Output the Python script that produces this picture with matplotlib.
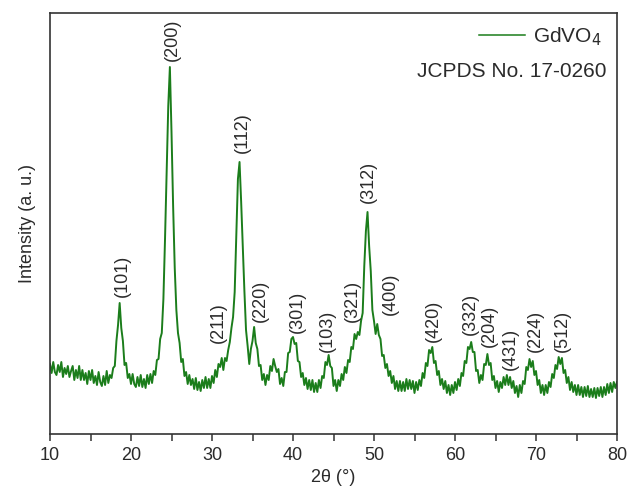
import numpy as np
import matplotlib
matplotlib.use("Agg")
import matplotlib.pyplot as plt

# ---- data: XRD pattern of GdVO4 (2theta from 10 to 80, step 0.2) ----
two_theta_start = 10.0
two_theta_step = 0.2
intensity = [
    70, 61, 72, 62, 59, 69, 62, 72, 57, 66,          # 10.0-11.8
    60, 68, 57, 63, 68, 54, 64, 56, 68, 54,          # 12.0-13.8
    64, 54, 61, 50, 63, 54, 64, 51, 58, 49,          # 14.0-15.8
    62, 52, 48, 58, 49, 63, 51, 59, 56, 66,          # 16.0-17.8
    68, 93, 109, 131, 106, 93, 69, 71, 56, 60,       # 18.0-19.8
    50, 60, 50, 47, 57, 48, 59, 47, 55, 46,          # 20.0-21.8
    59, 50, 60, 51, 63, 59, 74, 75, 95, 101,         # 22.0-23.8
    135, 195, 262, 328, 367, 302, 228, 166, 124, 101,  # 24.0-25.8
    91, 72, 75, 58, 62, 50, 59, 49, 55, 45,          # 26.0-27.8
    56, 44, 52, 43, 54, 46, 57, 46, 55, 46,          # 28.0-29.8
    58, 51, 64, 57, 70, 67, 76, 64, 76, 73,          # 30.0-31.8
    84, 92, 106, 117, 142, 200, 255, 272, 232, 188,  # 32.0-33.8
    143, 104, 88, 70, 85, 93, 107, 91, 85, 68,       # 34.0-35.8
    69, 54, 60, 49, 59, 54, 68, 63, 75, 68,          # 36.0-37.8
    62, 65, 50, 56, 48, 62, 62, 81, 82, 95,          # 38.0-39.8
    97, 90, 91, 73, 72, 57, 61, 49, 56, 45,          # 40.0-41.8
    54, 44, 54, 42, 51, 42, 54, 46, 58, 56,          # 42.0-43.8
    72, 69, 79, 68, 66, 48, 54, 43, 54, 48,          # 44.0-45.8
    60, 54, 67, 61, 74, 72, 87, 85, 100, 95,         # 46.0-47.8
    102, 99, 113, 121, 168, 203, 222, 188, 163, 124, # 48.0-49.8
    113, 100, 110, 99, 95, 78, 79, 66, 70, 58,       # 50.0-51.8
    63, 51, 58, 45, 53, 43, 53, 43, 52, 43,          # 52.0-53.8
    55, 45, 54, 45, 53, 41, 52, 44, 54, 48,          # 54.0-55.8
    61, 56, 71, 68, 84, 81, 87, 71, 73, 59,          # 56.0-57.8
    63, 49, 55, 45, 53, 41, 49, 39, 49, 41,          # 58.0-59.8
    52, 44, 55, 48, 61, 58, 73, 71, 87, 85,          # 60.0-61.8
    92, 82, 82, 63, 64, 51, 59, 54, 70, 69,          # 62.0-63.8
    80, 69, 71, 54, 58, 46, 53, 42, 52, 46,          # 64.0-65.8
    57, 49, 59, 49, 57, 46, 53, 41, 48, 37,          # 66.0-67.8
    49, 41, 53, 50, 67, 64, 75, 67, 73, 59,          # 68.0-69.8
    63, 49, 54, 41, 49, 39, 49, 41, 52, 47,          # 70.0-71.8
    60, 56, 69, 65, 77, 70, 76, 61, 64, 51,          # 72.0-73.8
    57, 44, 52, 42, 49, 39, 49, 39, 47, 37,          # 74.0-75.8
    47, 38, 48, 37, 45, 37, 46, 36, 46, 38,          # 76.0-77.8
    47, 37, 47, 39, 50, 41, 51, 42, 52, 46,          # 78.0-79.8
    52,                                              # 80.0
]
two_theta = two_theta_start + two_theta_step * np.arange(len(intensity))

# Miller-index labels and their anchor points (2theta, intensity at label bottom)
hkl_labels = ["(101)", "(200)", "(112)", "(211)", "(220)", "(301)", "(103)", "(321)",
              "(312)", "(400)", "(420)", "(332)", "(204)", "(431)", "(224)", "(512)"]
label_x = [18.9, 25.06, 33.7, 30.74, 35.93, 40.6, 44.3, 47.3,
           49.26, 51.97, 57.28, 61.85, 64.3, 66.8, 69.9, 73.3]
label_y = [137, 373, 281, 91, 112, 101, 82, 112,
           231, 119, 92, 99, 87, 64, 82, 82]

x_ticks = [10, 20, 30, 40, 50, 60, 70, 80]

# ---- style ----
plt.rcParams['font.family'] = ['Liberation Sans', 'DejaVu Sans']
text_color = '#2b2b2b'
line_color = '#1b7d1b'

fig = plt.figure(figsize=(6.28, 4.90), dpi=100)
ax = fig.add_axes([50/628, 1-434/490, (617-50)/628, (434-13)/490])

ax.plot(two_theta, intensity, color=line_color, lw=1.4, label='GdVO$_4$')

for lab, lx, ly in zip(hkl_labels, label_x, label_y):
    ax.text(lx, ly, lab, rotation=90, ha='center', va='bottom',
            fontsize=13, color=text_color)

ax.set_xlim(10, 80)
ax.set_ylim(0, 421)
ax.set_xticks(x_ticks)
ax.set_xticks(np.arange(15, 80, 10), minor=True)
ax.set_yticks([])
ax.tick_params(axis='x', which='both', direction='out', length=5, width=1.1,
               colors='#333333', labelsize=13, labelcolor=text_color, pad=4)
for s in ax.spines.values():
    s.set_color('#333333')
    s.set_linewidth(1.2)

ax.set_xlabel('2θ (°)', fontsize=13, color=text_color, labelpad=4)
ax.set_ylabel('Intensity (a. u.)', fontsize=13, color=text_color, labelpad=10)

leg = ax.legend(loc='upper right', frameon=False, fontsize=15, handlelength=2.2,
                handletextpad=0.4, borderaxespad=0.2, bbox_to_anchor=(0.995, 1.0))
for t in leg.get_texts():
    t.set_color(text_color)
for h in leg.legend_handles:
    h.set_linewidth(1.1)
ax.text(0.982, 0.848, 'JCPDS No. 17-0260', transform=ax.transAxes, ha='right',
        va='baseline', fontsize=15, color=text_color)

fig.savefig('out.png', dpi=100)
